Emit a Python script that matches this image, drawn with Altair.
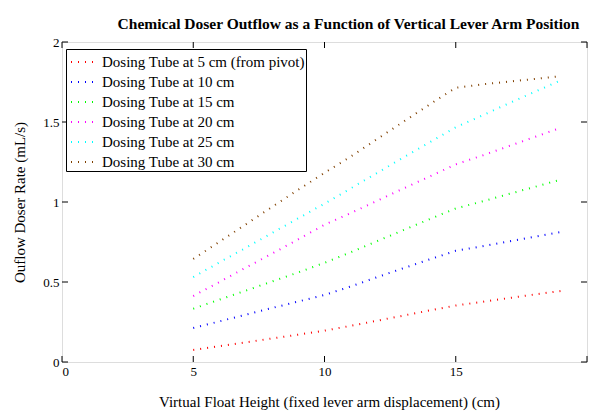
import altair as alt
import pandas as pd

# ---- data ----
x_cm = [5, 6, 7, 8, 9, 10, 11, 12, 13, 14, 15, 16, 17, 18, 19]

tube_5 = [0.075, 0.099, 0.123, 0.147, 0.171, 0.196, 0.226, 0.258, 0.290, 0.322, 0.353, 0.376, 0.399, 0.422, 0.444]
tube_10 = [0.2125, 0.254, 0.296, 0.3375, 0.378, 0.419, 0.472, 0.530, 0.586, 0.641, 0.695, 0.723, 0.753, 0.7825, 0.812]
tube_15 = [0.333, 0.390, 0.446, 0.503, 0.560, 0.620, 0.686, 0.755, 0.824, 0.8925, 0.960, 1.003, 1.049, 1.094, 1.140]
tube_20 = [0.4125, 0.500, 0.590, 0.677, 0.767, 0.858, 0.931, 1.007, 1.084, 1.159, 1.235, 1.290, 1.348, 1.406, 1.464]
tube_25 = [0.531, 0.623, 0.714, 0.806, 0.898, 0.990, 1.085, 1.181, 1.278, 1.3725, 1.467, 1.540, 1.615, 1.688, 1.760]
tube_30 = [0.644, 0.752, 0.860, 0.969, 1.077, 1.182, 1.284, 1.393, 1.501, 1.609, 1.714, 1.735, 1.752, 1.769, 1.786]

series_names = [
    "Dosing Tube at 5 cm (from pivot)",
    "Dosing Tube at 10 cm",
    "Dosing Tube at 15 cm",
    "Dosing Tube at 20 cm",
    "Dosing Tube at 25 cm",
    "Dosing Tube at 30 cm",
]
series_colors = ["#ff0000", "#0000ff", "#00ff00", "#ff00ff", "#00ffff", "#804000"]

x_tick_values = [0, 5, 10, 15, 20]
x_label_values = [0, 5, 10, 15]
y_tick_values = [0, 0.5, 1, 1.5, 2]

title_text = "Chemical Doser Outflow as a Function of Vertical Lever Arm Position"
x_title = "Virtual Float Height (fixed lever arm displacement) (cm)"
y_title = "Ouflow Doser Rate (mL/s)"

# ---- build tables ----
rows = []
for name, vals in zip(series_names, [tube_5, tube_10, tube_15, tube_20, tube_25, tube_30]):
    for xv, yv in zip(x_cm, vals):
        rows.append({"series": name, "x": xv, "y": yv})
df = pd.DataFrame(rows)
xt = pd.DataFrame({"x": x_tick_values})
yt = pd.DataFrame({"y": y_tick_values})

W, H = 525, 320
FONT = "Liberation Serif"
xscale = alt.Scale(domain=[0, 20], nice=False, zero=False)
yscale = alt.Scale(domain=[0, 2], nice=False, zero=False)

lines = alt.Chart(df).mark_line(strokeDash=[1, 6], strokeWidth=2, strokeCap="butt").encode(
    x=alt.X("x:Q", scale=xscale, axis=alt.Axis(
        values=x_label_values, title=x_title, grid=False, ticks=False, tickSize=0, domain=False,
        labelPadding=3, labelFontSize=13, labelFont=FONT, labelColor="black",
        titleFont=FONT, titleFontSize=15, titleFontWeight="normal", titleColor="black",
        titleBaseline="alphabetic", titleX=267, titleY=44)),
    y=alt.Y("y:Q", scale=yscale, axis=alt.Axis(
        values=y_tick_values, format="~g", title=y_title, grid=False, ticks=False, tickSize=0, domain=False,
        labelPadding=3, labelFontSize=13, labelFont=FONT, labelColor="black",
        titleFont=FONT, titleFontSize=15, titleFontWeight="normal", titleColor="black",
        titleBaseline="alphabetic", titleX=-38, titleY=160)),
    color=alt.Color("series:N", sort=series_names,
                    scale=alt.Scale(domain=series_names, range=series_colors),
                    legend=alt.Legend(
                        title=None, orient="none", legendX=4, legendY=7,
                        symbolType="stroke", symbolSize=484, symbolStrokeWidth=2,
                        symbolDash=[1, 6], symbolOffset=3, labelOffset=8,
                        labelFont=FONT, labelFontSize=15, labelColor="black", labelLimit=400,
                        rowPadding=0, padding=1, strokeColor="black", fillColor="white",
                    )),
)

bottom_ticks = alt.Chart(xt).mark_rule(color="black", strokeWidth=1).encode(
    x=alt.X("x:Q", scale=xscale), y=alt.value(H), y2=alt.value(H - 6))
top_ticks = alt.Chart(xt).mark_rule(color="black", strokeWidth=1).encode(
    x=alt.X("x:Q", scale=xscale), y=alt.value(0), y2=alt.value(6))
left_ticks = alt.Chart(yt).mark_rule(color="black", strokeWidth=1).encode(
    y=alt.Y("y:Q", scale=yscale), x=alt.value(0), x2=alt.value(6))
right_ticks = alt.Chart(yt).mark_rule(color="black", strokeWidth=1).encode(
    y=alt.Y("y:Q", scale=yscale), x=alt.value(W), x2=alt.value(W - 6))

chart = alt.layer(lines, bottom_ticks, top_ticks, left_ticks, right_ticks).properties(
    width=W, height=H,
    title=alt.TitleParams(text=title_text, font=FONT, fontSize=15.5, fontWeight="bold",
                          color="black", anchor="middle", dx=24, dy=19, offset=11, baseline="alphabetic"),
    padding={"left": 54, "top": 34, "right": 12, "bottom": 49},
    autosize=alt.AutoSizeParams(type="none"),
).configure_view(stroke="black", strokeWidth=1).configure(background="white")

chart.save("out.html", embed_options={"renderer": "svg", "actions": False})
